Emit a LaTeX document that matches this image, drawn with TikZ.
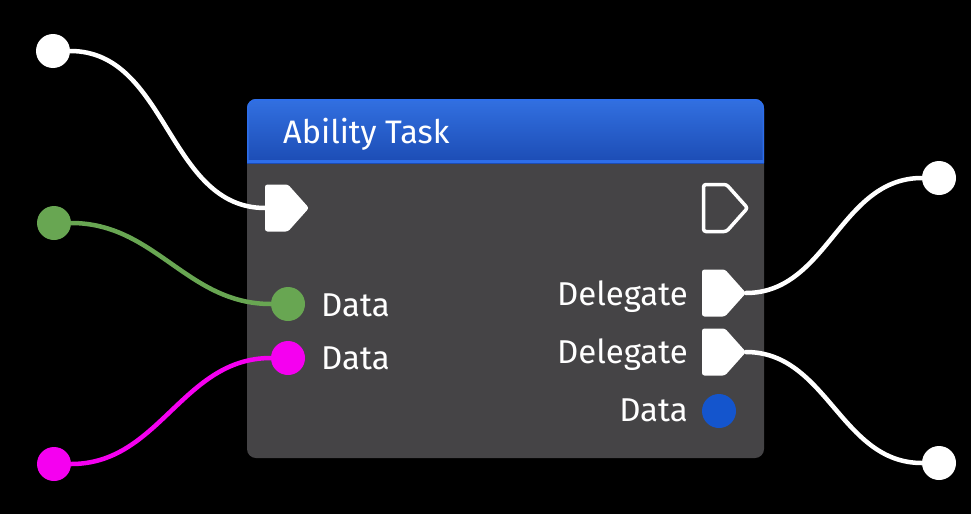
\documentclass[tikz,border=0pt]{standalone}
\usepackage{fontspec}
\setmainfont{Fira Sans}
\definecolor{bodygray}{RGB}{69,68,70}
\definecolor{pingreen}{RGB}{104,166,82}
\definecolor{pinmag}{RGB}{245,0,240}
\definecolor{pinblue}{RGB}{20,85,205}
\definecolor{hdtop}{RGB}{50,112,225}
\definecolor{hdbot}{RGB}{28,76,180}
\definecolor{hdline}{RGB}{45,110,235}
\tikzset{
  pics/execpin/.style={code={
    \path[pic actions, rounded corners=2.5pt] (0,-23.5) -- (23,-23.5) -- (44,0) -- (23,23.5) -- (0,23.5) -- cycle;
    \coordinate (-w) at (0,0);
    \coordinate (-tip) at (44,0);
  }},
  dot/.style={circle, inner sep=0pt, minimum size=34pt},
  wire/.style={line width=4.5pt, line cap=round},
  lbl/.style={text=white, font=\fontsize{33}{38}\selectfont, inner sep=0pt},
}
\begin{document}
\begin{tikzpicture}[x=1pt,y=-1pt]
\fill[black] (0,0) rectangle (971,514);
\useasboundingbox (0,0) rectangle (971,514);
% body
\fill[bodygray, rounded corners=9pt] (247,99) rectangle (764,458);
\begin{scope}
  \clip[rounded corners=9pt] (247,99) rectangle (764,458);
  \shade[top color=hdtop, bottom color=hdbot] (247,99) rectangle (764,163);
  \draw[hdline, line width=3pt] (247,161.5) -- (764,161.5);
\end{scope}
\draw[hdline, line width=1.5pt, rounded corners=9pt] (247.75,163) -- (247.75,99.75) -- (763.25,99.75) -- (763.25,163);
\node[lbl, anchor=base west, font=\fontsize{32.5}{37}\selectfont] (title) at (283,143) {Ability Task};
% pins
\pic[fill=white] (ein) at (265,208) {execpin};
\pic[draw=white, line width=3.5pt] (eout) at (703.5,208) {execpin};
\pic[fill=white] (del1) at (702,293) {execpin};
\pic[fill=white] (del2) at (702,352) {execpin};
\node[dot, fill=pingreen] (gin) at (288,304) {};
\node[dot, fill=pinmag] (min) at (288,358) {};
\node[dot, fill=pinblue] (dout) at (719,411) {};
% labels
\node[lbl, anchor=base west] (lg) at (321,316) {Data};
\node[lbl, anchor=base west] (lm) at (321,369) {Data};
\node[lbl, anchor=base east] (ld1) at (688,305) {Delegate};
\node[lbl, anchor=base east] (ld2) at (688,363) {Delegate};
\node[lbl, anchor=base east] (ld3) at (688,421) {Data};
% outer endpoints
\node[dot, fill=white] (s1) at (53,51) {};
\node[dot, fill=pingreen] (s2) at (54,223) {};
\node[dot, fill=pinmag] (s3) at (54,464) {};
\node[dot, fill=white] (t1) at (939,178) {};
\node[dot, fill=white] (t2) at (939,463) {};
% wires
\draw[wire, white] (s1.east) to[out=0, in=180] (ein-w);
\draw[wire, pingreen] (s2.east) to[out=0, in=180] (gin.west);
\draw[wire, pinmag] (s3.east) to[out=0, in=180] (min.west);
\draw[wire, white] (del1-tip) to[out=0, in=180] (t1.west);
\draw[wire, white] (del2-tip) to[out=0, in=180] (t2.west);
\end{tikzpicture}
\end{document}
